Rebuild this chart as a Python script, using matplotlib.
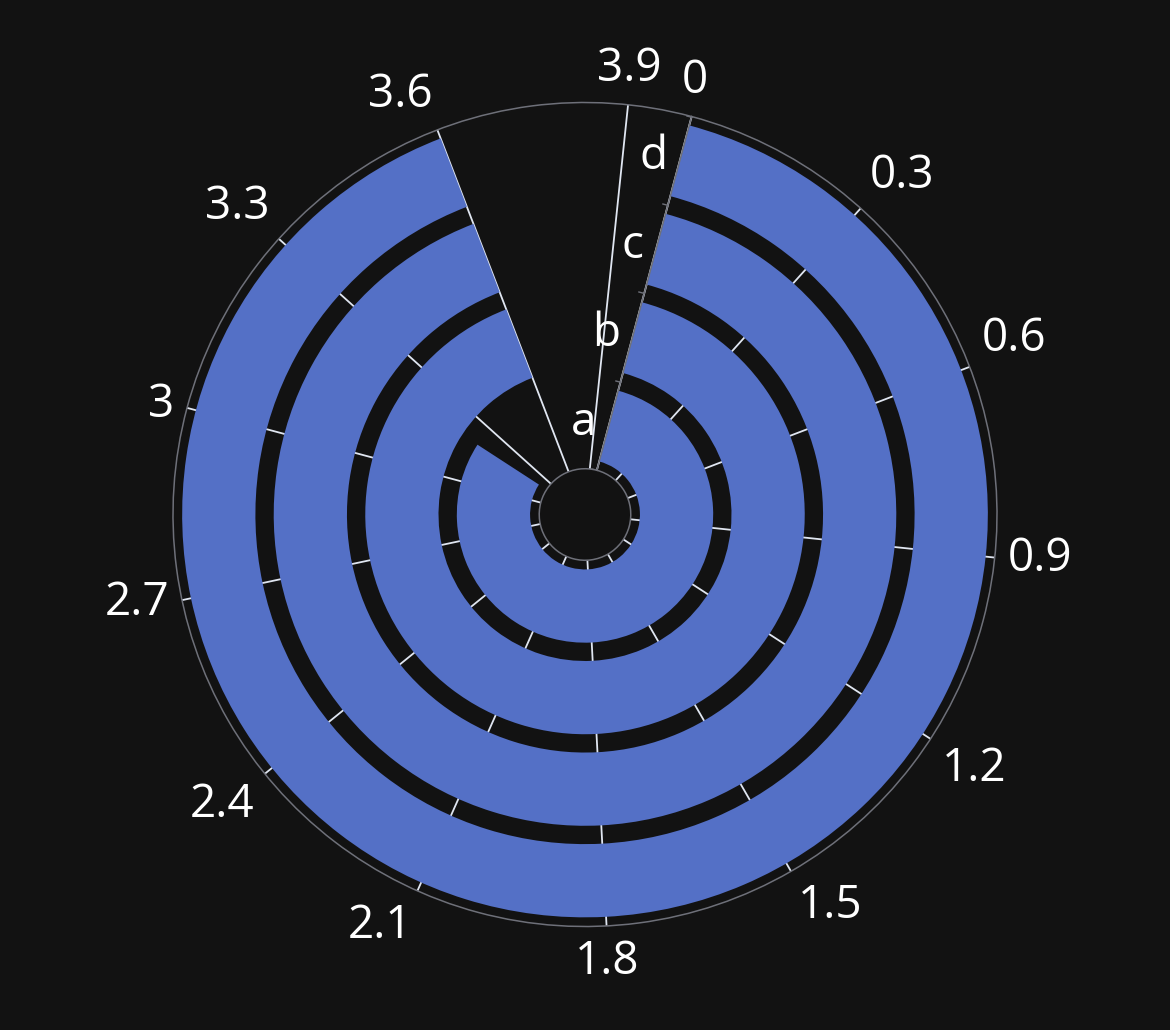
import numpy as np
import matplotlib
matplotlib.use("Agg")
import matplotlib.pyplot as plt
from matplotlib.path import Path

# ---- data ----
categories = ["a", "b", "c", "d"]
values = [3.2, 3.6, 3.6, 3.6]
angle_max = 4.0
angle_ticks = [0, 0.3, 0.6, 0.9, 1.2, 1.5, 1.8, 2.1, 2.4, 2.7, 3.0, 3.3, 3.6, 3.9]
angle_labels = ["0", "0.3", "0.6", "0.9", "1.2", "1.5", "1.8", "2.1", "2.4", "2.7",
                "3", "3.3", "3.6", "3.9"]

# ---- style ----
BG = "#121212"
BAR = "#5470c6"
SPLIT = "#E0E6F1"
AXIS = "#6E7079"
TEXT = "#ffffff"
START_DEG = 15  # clockwise from top
plt.rcParams["font.family"] = ["Open Sans", "DejaVu Sans"]
FS = 33

W, H = 1170, 1030
CX, CY, R = 585, 514.5, 412
RORIGIN = 0.5

fig = plt.figure(figsize=(W / 100, H / 100), dpi=100, facecolor=BG)
ax = fig.add_axes([(CX - R) / W, (H - CY - R) / H, 2 * R / W, 2 * R / H],
                  projection="polar", facecolor=BG)
ax.set_theta_direction(-1)
ax.set_theta_offset(np.deg2rad(90 - START_DEG))
ax.set_xlim(0, 2 * np.pi)
ax.set_ylim(0, len(categories))
ax.set_rorigin(-RORIGIN)


def to_theta(v):
    return np.asarray(v, dtype=float) * 2 * np.pi / angle_max


# bars
for i, v in enumerate(values):
    ax.bar(0, 0.8, width=float(to_theta(v)), bottom=i + 0.1, align="edge",
           color=BAR, linewidth=0, zorder=2)

# split lines (angle grid) beneath bars
ax.set_axisbelow(True)
ax.set_xticks(to_theta(angle_ticks))
ax.set_xticklabels([])
ax.xaxis.grid(True, color=SPLIT, linewidth=1.3)
ax.set_yticks([])
ax.yaxis.grid(False)
ax.tick_params(axis="x", direction="out", length=4, width=1.0, color=AXIS, pad=0)

for name in ("polar", "inner"):
    if name in ax.spines:
        ax.spines[name].set_color(AXIS)
        ax.spines[name].set_linewidth(1.1)

# angle labels (ECharts-like alignment)
rmax = len(categories)
r_lab = (R + 13) / R * (rmax + RORIGIN) - RORIGIN
for v, lab in zip(angle_ticks, angle_labels):
    ang = np.deg2rad(START_DEG + 360 * v / angle_max)
    s, c = np.sin(ang), np.cos(ang)
    ha = "center" if abs(s) < 0.3 else ("left" if s > 0 else "right")
    va = "center" if abs(c) < 0.3 else ("bottom" if c > 0 else "top")
    ax.text(float(to_theta(v)), r_lab, lab, ha=ha, va=va, color=TEXT,
            fontsize=FS, clip_on=False)

# radius axis line, ticks, labels
ax.plot([0, 0], [0, rmax], color=AXIS, linewidth=1.1, zorder=3, solid_capstyle="butt")
a = np.deg2rad(START_DEG)
tick_path = Path([(0, 0), (-np.cos(a), np.sin(a))], [Path.MOVETO, Path.LINETO])
ax.plot(np.zeros(rmax + 1), np.arange(rmax + 1), linestyle="none", marker=tick_path,
        markersize=9, markeredgecolor=AXIS, markeredgewidth=1.0, zorder=3)
for i, cat in enumerate(categories):
    ax.annotate(cat, xy=(0, i + 0.5), xytext=(-13 * np.cos(a), 13 * np.sin(a)),
                textcoords="offset pixels", ha="right", va="center",
                color=TEXT, fontsize=FS, zorder=4)

fig.savefig("out.png", dpi=100, facecolor=BG)
